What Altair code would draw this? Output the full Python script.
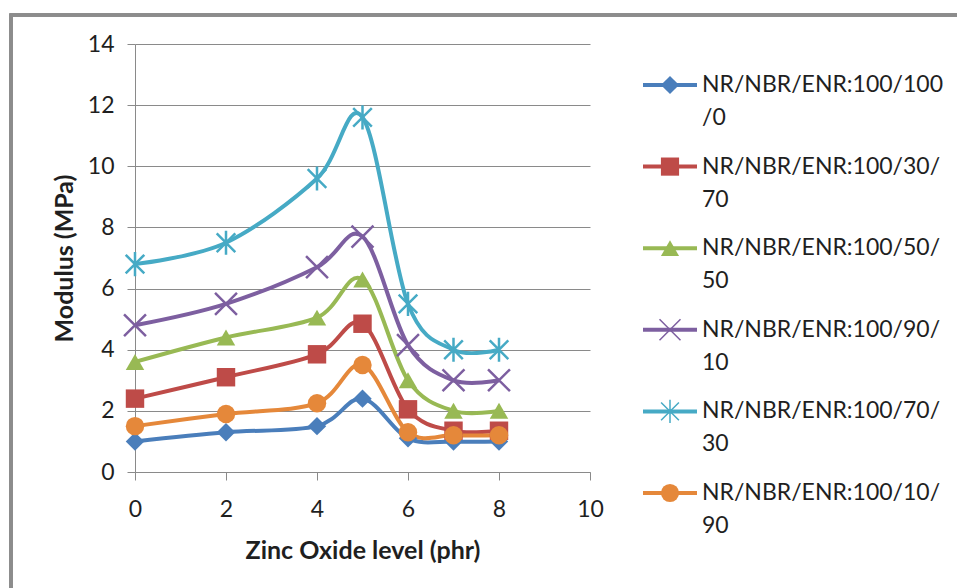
import altair as alt
import pandas as pd

# ---- data ----
zno_levels = [0, 2, 4, 5, 6, 7, 8]
series_names = [
    "NR/NBR/ENR:100/100/0",
    "NR/NBR/ENR:100/30/70",
    "NR/NBR/ENR:100/50/50",
    "NR/NBR/ENR:100/90/10",
    "NR/NBR/ENR:100/70/30",
    "NR/NBR/ENR:100/10/90",
]
mod_100_100_0 = [1.0, 1.3, 1.5, 2.4, 1.1, 1.0, 1.0]
mod_100_30_70 = [2.4, 3.1, 3.85, 4.85, 2.05, 1.35, 1.35]
mod_100_50_50 = [3.6, 4.4, 5.05, 6.3, 3.0, 2.0, 2.0]
mod_100_90_10 = [4.8, 5.5, 6.7, 7.7, 4.15, 3.0, 3.0]
mod_100_70_30 = [6.8, 7.5, 9.6, 11.6, 5.5, 4.0, 4.0]
mod_100_10_90 = [1.5, 1.9, 2.25, 3.5, 1.3, 1.2, 1.2]
all_values = [mod_100_100_0, mod_100_30_70, mod_100_50_50,
              mod_100_90_10, mod_100_70_30, mod_100_10_90]

colors = ["#4A7EBB", "#BE4B48", "#98B954", "#7D5FA0", "#46AAC5", "#E5883A"]
shapes = [
    "diamond",
    "square",
    "triangle-up",
    "M-1,-1L1,1M-1,1L1,-1",
    "M-0.85,-0.85L0.85,0.85M-0.85,0.85L0.85,-0.85M0,-1.1L0,1.1",
    "circle",
]
stroked_series = [series_names[3], series_names[4]]

rows = []
for name, vals in zip(series_names, all_values):
    for xv, yv in zip(zno_levels, vals):
        rows.append({"series": name, "zno": xv, "modulus": yv})
df = pd.DataFrame(rows)

leg = pd.DataFrame({
    "series": series_names,
    "row": list(range(len(series_names))),
    "line1": [s[:18] for s in series_names],
    "line2": [s[18:] for s in series_names],
})

FONT = "Lato"
TXT = "#1f1f1f"
GRID = "#8a8a8a"

color_scale = alt.Scale(domain=series_names, range=colors)
shape_scale = alt.Scale(domain=series_names, range=shapes)

x_enc = alt.X("zno:Q", scale=alt.Scale(domain=[0, 10]),
              axis=alt.Axis(title="Zinc Oxide level (phr)", values=[0, 2, 4, 6, 8, 10],
                            grid=False, tickSize=8, labelPadding=18, labelFlush=False,
                            labelOverlap=False, titlePadding=17))
y_main = alt.Y("modulus:Q", scale=alt.Scale(domain=[0, 14]),
               axis=alt.Axis(title="Modulus (MPa)", values=list(range(0, 15, 2)),
                             grid=True, tickSize=8, labelPadding=13, labelFlush=False,
                             labelOverlap=False, titlePadding=10))
col_enc = alt.Color("series:N", scale=color_scale, legend=None)
shp_enc = alt.Shape("series:N", scale=shape_scale, legend=None)

lines = alt.Chart(df).mark_line(strokeWidth=4, interpolate="cardinal").encode(
    x=x_enc, y=y_main, color=col_enc, detail="series:N",
)
pts_filled = alt.Chart(df).transform_filter(
    ~alt.FieldOneOfPredicate(field="series", oneOf=stroked_series)
).mark_point(filled=True, opacity=1, size=340).encode(
    x=x_enc, y=y_main, color=col_enc, shape=shp_enc,
)
pts_stroked = alt.Chart(df).transform_filter(
    alt.FieldOneOfPredicate(field="series", oneOf=stroked_series)
).mark_point(filled=False, opacity=1, size=480, strokeWidth=2.5).encode(
    x=x_enc, y=y_main, color=col_enc, shape=shp_enc,
)
main = alt.layer(lines, pts_filled, pts_stroked)

# ---- custom legend (line + marker + two-line label) ----
y_leg = alt.Y("row:Q", scale=alt.Scale(domain=[-0.5025, 4.743], reverse=True), axis=None)
leg_rule = alt.Chart(leg).mark_rule(strokeWidth=4).encode(
    x=alt.value(508), x2=alt.value(562), y=y_leg, color=col_enc,
)
leg_pts_f = alt.Chart(leg).transform_filter(
    ~alt.FieldOneOfPredicate(field="series", oneOf=stroked_series)
).mark_point(filled=True, opacity=1, size=330).encode(
    x=alt.value(535), y=y_leg, color=col_enc, shape=shp_enc,
)
leg_pts_s = alt.Chart(leg).transform_filter(
    alt.FieldOneOfPredicate(field="series", oneOf=stroked_series)
).mark_point(filled=False, opacity=1, size=440, strokeWidth=1.5).encode(
    x=alt.value(535), y=y_leg, color=col_enc, shape=shp_enc,
)
leg_t1 = alt.Chart(leg).mark_text(align="left", baseline="middle", font=FONT,
                                   fontSize=23, color=TXT).encode(
    x=alt.value(567), y=y_leg, text="line1:N")
leg_t2 = alt.Chart(leg).mark_text(align="left", baseline="middle", font=FONT,
                                   fontSize=23, color=TXT, dy=33).encode(
    x=alt.value(567), y=y_leg, text="line2:N")
legend = alt.layer(leg_rule, leg_pts_f, leg_pts_s, leg_t1, leg_t2)

frame = alt.Chart(leg).mark_rect(fill=None, stroke="#8c8c8c", strokeWidth=3).encode(
    x=alt.value(-124), x2=alt.value(900), y=alt.value(-29), y2=alt.value(620))

chart = alt.layer(main, legend, frame).resolve_scale(y="independent").properties(
    width=455, height=428,
    background="white",
    autosize=alt.AutoSizeParams(type="none"),
    padding={"left": 135, "top": 44, "right": 367, "bottom": 116},
).configure_view(stroke=None, strokeWidth=0).configure_axis(
    labelFont=FONT, labelFontSize=23, labelColor=TXT,
    titleFont=FONT, titleFontSize=25, titleFontWeight="bold", titleColor=TXT,
    domainColor=GRID, tickColor=GRID, gridColor=GRID,
    domainWidth=1, tickWidth=1, gridWidth=1,
)

chart.save("out.html", embed_options={"renderer": "svg", "actions": False})
